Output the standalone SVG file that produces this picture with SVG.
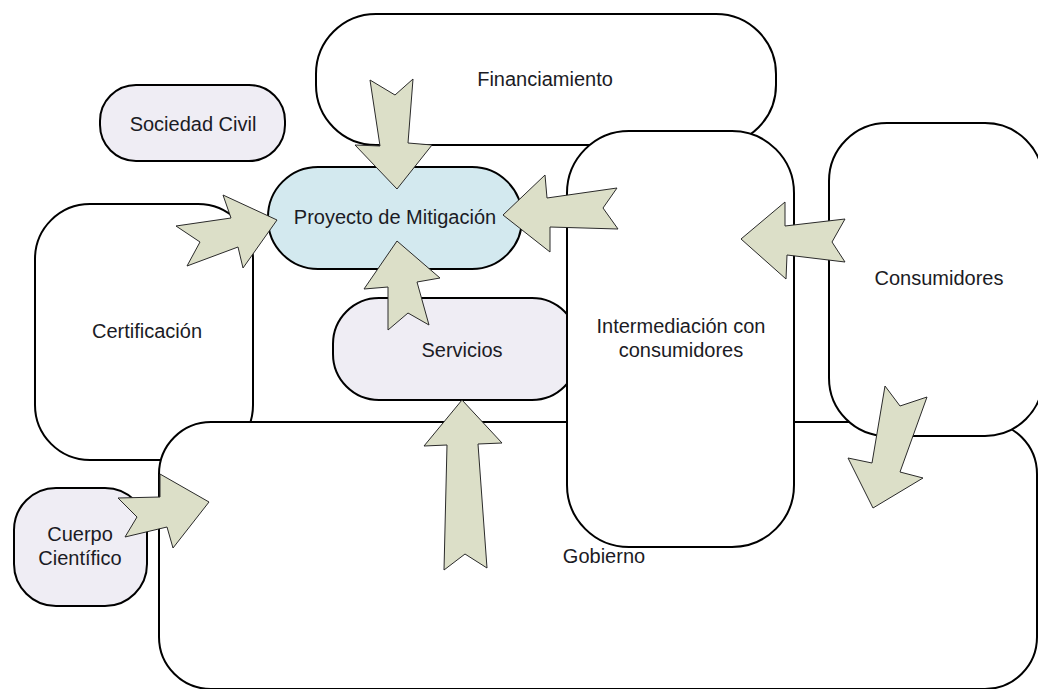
<svg xmlns="http://www.w3.org/2000/svg" width="1038" height="689" viewBox="0 0 1038 689">
  <style>
    .box { fill: #ffffff; stroke: #000000; stroke-width: 2; }
    .lav { fill: #efedf4; }
    .blue { fill: #d3e9ef; }
    .lbl { font-family: "Liberation Sans", Arial, sans-serif; font-size: 20px; fill: #1b1b24; text-anchor: middle; }
    .arrow { fill: #dcdfc8; stroke: #2a2a2a; stroke-width: 1; stroke-linejoin: miter; }
  </style>
  <rect width="1038" height="689" fill="#ffffff"/>

  <g id="financiamiento">
    <rect class="box" x="316" y="14" width="460" height="131" rx="60" ry="60"/>
    <text class="lbl" x="545" y="86">Financiamiento</text>
  </g>

  <g id="sociedad-civil">
    <rect class="box lav" x="100" y="85" width="185" height="76" rx="36" ry="36"/>
    <text class="lbl" x="193" y="131">Sociedad Civil</text>
  </g>

  <g id="certificacion">
    <rect class="box" x="35" y="204" width="218" height="256" rx="55" ry="55"/>
    <text class="lbl" x="147" y="338">Certificación</text>
  </g>

  <g id="proyecto-mitigacion">
    <rect class="box blue" x="268" y="167" width="254" height="102" rx="50" ry="50"/>
    <text class="lbl" x="395" y="224">Proyecto de Mitigación</text>
  </g>

  <g id="servicios">
    <rect class="box lav" x="333" y="298" width="245" height="102" rx="46" ry="46"/>
    <text class="lbl" x="462" y="357">Servicios</text>
  </g>

  <g id="gobierno">
    <rect class="box" x="159" y="422" width="878" height="267" rx="52" ry="52"/>
    <text class="lbl" x="604" y="563">Gobierno</text>
  </g>

  <g id="intermediacion">
    <rect class="box" x="567" y="131" width="227" height="416" rx="62" ry="62"/>
    <text class="lbl" x="681" y="333">Intermediación con</text>
    <text class="lbl" x="681" y="357">consumidores</text>
  </g>

  <g id="consumidores">
    <rect class="box" x="829" y="123" width="214" height="313" rx="58" ry="58"/>
    <text class="lbl" x="939" y="285">Consumidores</text>
  </g>

  <g id="cuerpo-cientifico">
    <rect class="box lav" x="14" y="488" width="133" height="118" rx="42" ry="42"/>
    <text class="lbl" x="80" y="541">Cuerpo</text>
    <text class="lbl" x="80" y="565">Científico</text>
  </g>

  <!-- notched block arrows -->
  <g id="connectors">
    <polygon class="arrow" points="370,80 395,95 413,79 408,143 432,145 397,189 355,145 380,146"/>
    <polygon class="arrow" points="176,226 231,218 223,195 277,220 243,268 238,247 187,266 200,242"/>
    <polygon class="arrow" points="617,188 547,198 545,175 503,215 550,252 550,227 618,229 603,208"/>
    <polygon class="arrow" points="845,219 785,226 785,202 741,239 786,279 787,255 845,262 832,242"/>
    <polygon class="arrow" points="388,330 388,287 364,289 397,241 440,278 417,282 429,325 408,313"/>
    <polygon class="arrow" points="444,570 447,445 424,446 462,400 502,443 478,444 487,568 465,554"/>
    <polygon class="arrow" points="118,498 160,497 160,474 209,502 173,548 167,527 125,537 137,517"/>
    <polygon class="arrow" points="885,386 900,406 927,397 900,472 923,478 873,508 848,458 872,463"/>
  </g>
</svg>
